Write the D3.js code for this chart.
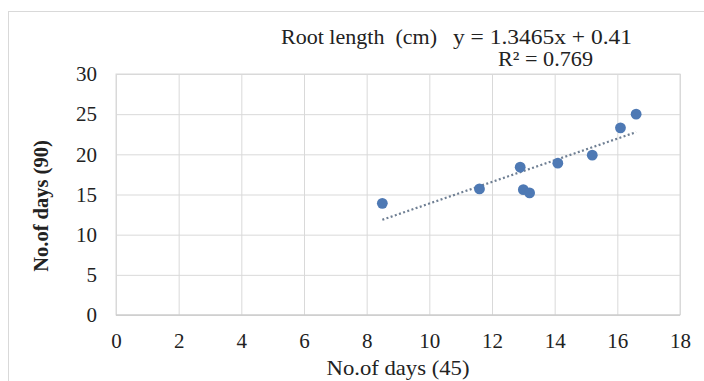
<!DOCTYPE html>
<html>
<head>
<meta charset="utf-8">
<script src="https://cdn.jsdelivr.net/npm/d3@7"></script>
<style>
  html, body { margin: 0; padding: 0; background: #fff; }
  svg { display: block; }
  svg text { font-family: 'Liberation Serif', Tinos, 'Times New Roman', Times, 'DejaVu Serif', serif; fill: #222; }
</style>
</head>
<body>
<svg id="chart" width="704" height="381"></svg>
<script>
// Root length: No. of days at 45 vs No. of days at 90
const xValues = [8.5, 11.6, 12.9, 13.0, 13.2, 14.1, 15.2, 16.1, 16.6];
const yValues = [13.9, 15.7, 18.4, 15.6, 15.2, 18.9, 19.9, 23.3, 25.0];
const xTicks = [0, 2, 4, 6, 8, 10, 12, 14, 16, 18];
const yTicks = [0, 5, 10, 15, 20, 25, 30];
const slope = 1.3465, intercept = 0.41, rSquared = 0.769;

const svg = d3.select("#chart");
const W = 704, H = 381;
const plot = { left: 116, right: 680, top: 74, bottom: 315 };
const serif = "'Liberation Serif', Tinos, 'Times New Roman', Times, 'DejaVu Serif', serif";

// outer chart border
svg.append("rect")
  .attr("x", 8.5).attr("y", 11.5)
  .attr("width", W - 8).attr("height", H - 8)
  .attr("fill", "none").attr("stroke", "#d9d9d9");

const x = d3.scaleLinear().domain([0, 18]).range([plot.left, plot.right]);
const y = d3.scaleLinear().domain([0, 30]).range([plot.bottom, plot.top]);

// gridlines
svg.append("g")
  .attr("transform", `translate(0,${plot.bottom})`)
  .call(d3.axisBottom(x).tickValues(xTicks).tickSize(-(plot.bottom - plot.top)).tickFormat(""))
  .call(g => g.select(".domain").remove())
  .call(g => g.selectAll("line").attr("stroke", "#d9d9d9"));
svg.append("g")
  .attr("transform", `translate(${plot.left},0)`)
  .call(d3.axisLeft(y).tickValues(yTicks).tickSize(-(plot.right - plot.left)).tickFormat(""))
  .call(g => g.select(".domain").remove())
  .call(g => g.selectAll("line").attr("stroke", "#d9d9d9"));

// plot frame
svg.append("rect")
  .attr("x", plot.left).attr("y", plot.top)
  .attr("width", plot.right - plot.left).attr("height", plot.bottom - plot.top)
  .attr("fill", "none").attr("stroke", "#d9d9d9");
svg.append("line")
  .attr("x1", plot.left).attr("x2", plot.right)
  .attr("y1", plot.bottom).attr("y2", plot.bottom)
  .attr("stroke", "#c6c6c6");

// tick labels
function styleTicks(g) {
  g.select(".domain").remove();
  g.attr("font-family", null).attr("font-size", null);
  g.selectAll("text").style("font-family", serif).style("font-size", "21px").style("fill", "#222");
}
svg.append("g")
  .attr("transform", `translate(0,${plot.bottom})`)
  .call(d3.axisBottom(x).tickValues(xTicks).tickSize(0).tickPadding(18))
  .call(styleTicks);
svg.append("g")
  .attr("transform", `translate(${plot.left},0)`)
  .call(d3.axisLeft(y).tickValues(yTicks).tickSize(0).tickPadding(19))
  .call(styleTicks);

// axis titles
svg.append("text")
  .attr("x", (plot.left + plot.right) / 2).attr("y", 375)
  .attr("text-anchor", "middle").style("font-family", serif).style("font-size", "21px")
  .attr("textLength", 143).attr("lengthAdjust", "spacingAndGlyphs")
  .text("No.of days (45)");
svg.append("text")
  .attr("transform", "translate(48,206) rotate(-90)")
  .attr("text-anchor", "middle").style("font-family", serif).style("font-size", "20.5px").attr("font-weight", "bold")
  .text("No.of days (90)");

// linear trendline across the data range
const xExt = d3.extent(xValues);
svg.append("line")
  .attr("x1", x(xExt[0])).attr("y1", y(slope * xExt[0] + intercept))
  .attr("x2", x(xExt[1])).attr("y2", y(slope * xExt[1] + intercept))
  .attr("stroke", "#6f7f93").attr("stroke-width", 2.2)
  .attr("stroke-dasharray", "2,2.4");

// points
svg.append("g").selectAll("circle")
  .data(xValues.map((v, i) => [v, yValues[i]]))
  .join("circle")
  .attr("cx", d => x(d[0])).attr("cy", d => y(d[1]))
  .attr("r", 5.4).attr("fill", "#4e79b4");

// title and regression equation
svg.append("text")
  .attr("x", 281).attr("y", 44).style("font-family", serif).style("font-size", "21px")
  .attr("xml:space", "preserve")
  .attr("textLength", 156).attr("lengthAdjust", "spacingAndGlyphs")
  .text("Root length  (cm)");
svg.append("text")
  .attr("x", 453).attr("y", 44).style("font-family", serif).style("font-size", "21px")
  .attr("textLength", 179).attr("lengthAdjust", "spacingAndGlyphs")
  .text(`y = ${slope}x + ${intercept}`);
svg.append("text")
  .attr("x", 498).attr("y", 66).style("font-family", serif).style("font-size", "21px")
  .attr("textLength", 95).attr("lengthAdjust", "spacingAndGlyphs")
  .text(`R² = ${rSquared}`);
</script>
</body>
</html>
